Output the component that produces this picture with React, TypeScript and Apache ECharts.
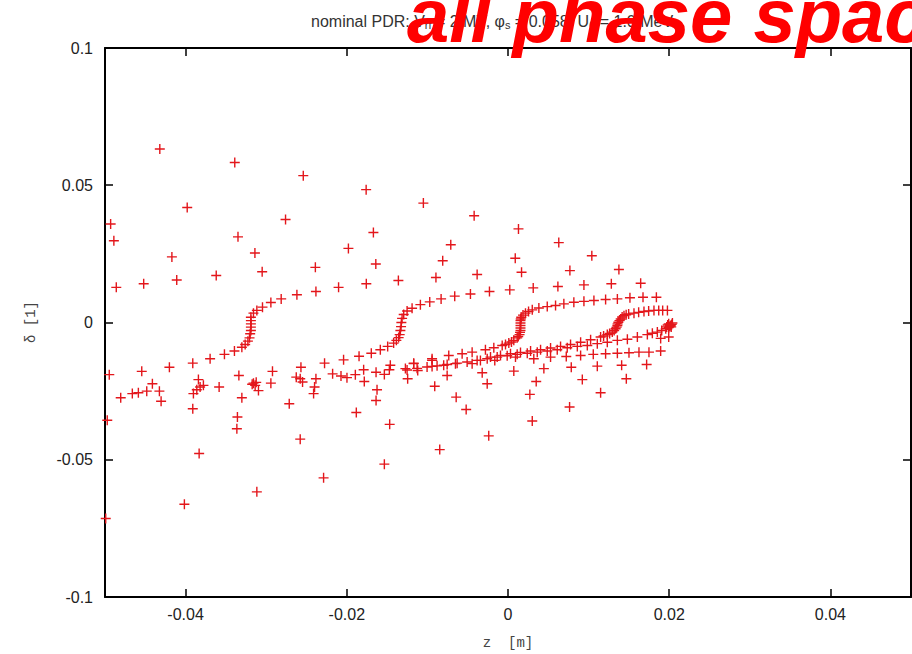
import React, { useEffect, useRef } from "react";
import * as echarts from "echarts";

// ---- data (z [m], delta [1]) ----
const xTickValues = [-0.04, -0.02, 0, 0.02, 0.04];
const yTickValues = [-0.1, -0.05, 0, 0.05, 0.1];

const scatterUpper: [number, number][] = [
  [-0.0432, 0.0632], [-0.0339, 0.0583], [-0.0254, 0.0535], [-0.0176, 0.0484],
  [-0.0398, 0.0419], [-0.0493, 0.0359], [-0.0276, 0.0375], [-0.0489, 0.0298],
  [-0.0335, 0.0312], [-0.0167, 0.0328], [-0.0314, 0.0253], [-0.0198, 0.027],
  [-0.0417, 0.0239], [-0.0305, 0.0185], [-0.0239, 0.0201], [-0.0164, 0.0213],
  [-0.0486, 0.0128], [-0.0452, 0.0141], [-0.0411, 0.0155], [-0.0362, 0.0171],
  [-0.0105, 0.0435], [-0.0042, 0.0389], [0.0013, 0.0341], [0.0063, 0.0291],
  [0.0104, 0.0243], [-0.0071, 0.0283], [-0.0081, 0.0225], [0.0009, 0.0234],
];

const lineA: [number, number][] = [
  [-0.04947, -0.019], [-0.04544, -0.0178], [-0.04201, -0.0163], [-0.03911, -0.0148],
  [-0.03696, -0.0132], [-0.03518, -0.0116], [-0.03394, -0.0104], [-0.03302, -0.009],
  [-0.03261, -0.008], [-0.03227, -0.0068], [-0.03207, -0.0056], [-0.03199, -0.0041],
  [-0.0319, -0.0029], [-0.0319, -0.0017], [-0.0319, -0.0005], [-0.0319, 0.0007],
  [-0.0319, 0.0019], [-0.03158, 0.0034], [-0.03116, 0.0044], [-0.03046, 0.0056],
  [-0.02942, 0.0073], [-0.02814, 0.0086], [-0.02619, 0.0101], [-0.02383, 0.0113],
  [-0.02102, 0.0128], [-0.01758, 0.0141], [-0.0136, 0.0153], [-0.00894, 0.0164],
  [-0.00383, 0.0175], [0.00168, 0.0183], [0.00768, 0.0189], [0.01376, 0.0193],
];

const lineB: [number, number][] = [
  [-0.03841, -0.0208], [-0.03339, -0.0193], [-0.02922, -0.0178], [-0.02569, -0.0163],
  [-0.02276, -0.0148], [-0.0204, -0.0136], [-0.01848, -0.0123], [-0.01696, -0.0112],
  [-0.01584, -0.0099], [-0.01493, -0.0087], [-0.01419, -0.0075], [-0.01385, -0.0065],
  [-0.01357, -0.0055], [-0.01344, -0.0044], [-0.01335, -0.0029], [-0.01327, -0.0015],
  [-0.01323, 0.0], [-0.01314, 0.0015], [-0.01294, 0.0029], [-0.01252, 0.0042],
  [-0.0119, 0.0052], [-0.01087, 0.0065], [-0.00971, 0.0075], [-0.0083, 0.0086],
  [-0.00661, 0.0096], [-0.00466, 0.0104], [-0.0023, 0.0113], [0.00022, 0.0119],
  [0.00313, 0.0126], [0.00619, 0.0131], [0.00942, 0.0137], [0.01282, 0.0141],
  [0.01646, 0.0143],
];

const lineC: [number, number][] = [
  [-0.04805, -0.0274], [-0.04661, -0.0259], [-0.04586, -0.0256], [-0.04482, -0.025],
  [-0.04412, -0.0223], [-0.03861, -0.0245], [-0.0382, -0.0235], [-0.03779, -0.0229],
  [-0.03584, -0.0235], [-0.03158, -0.0221], [-0.02942, -0.0221], [-0.02627, -0.0199],
  [-0.02383, -0.0205], [-0.02072, -0.0195], [-0.01894, -0.019], [-0.01637, -0.0181],
  [-0.0146, -0.0156], [-0.01273, -0.0168], [-0.0117, -0.0148], [-0.00942, -0.0138],
  [-0.00735, -0.012], [-0.00569, -0.0114], [-0.00445, -0.0108], [-0.0028, -0.0099],
  [-0.00176, -0.0092], [-0.00072, -0.0084], [-0.00031, -0.008], [0.0001, -0.0075],
  [0.00043, -0.0071], [0.00072, -0.0065], [0.00114, -0.0056], [0.00127, -0.0051],
  [0.00143, -0.0044], [0.00149, -0.0036], [0.00155, -0.0029], [0.00155, -0.002],
  [0.00155, -0.0011], [0.00155, -0.0002], [0.00155, 0.0007], [0.00158, 0.0013],
  [0.00164, 0.0019], [0.00186, 0.0027], [0.00217, 0.0034], [0.00255, 0.004],
  [0.00301, 0.0046], [0.00383, 0.0053], [0.00487, 0.0058], [0.0059, 0.0062],
  [0.00693, 0.0068], [0.00817, 0.0074], [0.00942, 0.0077], [0.01066, 0.008],
  [0.01211, 0.0084], [0.01357, 0.0086], [0.01513, 0.009], [0.01675, 0.0092],
  [0.01841, 0.0092],
];

const lineS4: [number, number][] = [
  [-0.00217, -0.0126], [-0.00093, -0.012], [0.00031, -0.0114], [0.00155, -0.0109],
  [0.0028, -0.0104], [0.00404, -0.0099], [0.00528, -0.0093], [0.00652, -0.0087],
  [0.00776, -0.008], [0.00901, -0.0072], [0.01025, -0.0063], [0.01149, -0.0053],
  [0.01186, -0.0049], [0.01232, -0.0044], [0.01261, -0.004], [0.01294, -0.0035],
  [0.01317, -0.0029], [0.01335, -0.0023], [0.01348, -0.0017], [0.01357, -0.0011],
  [0.0136, -0.0005], [0.01369, 0.0001], [0.01383, 0.0007], [0.01398, 0.0013],
  [0.01416, 0.002], [0.01439, 0.0025], [0.01466, 0.0028], [0.01497, 0.0031],
  [0.01563, 0.0034], [0.01621, 0.0037], [0.01687, 0.004], [0.01745, 0.0042],
  [0.01811, 0.0044], [0.0187, 0.0044], [0.01919, 0.0044], [0.01978, 0.0044],
];

const lineD: [number, number][] = [
  [-0.01252, -0.0173], [-0.01128, -0.0167], [-0.01004, -0.0162], [-0.0088, -0.0158],
  [-0.00755, -0.0153], [-0.00631, -0.0148], [-0.00507, -0.0144], [-0.00383, -0.0138],
  [-0.00258, -0.0132], [-0.00134, -0.0126], [-0.0001, -0.0121], [0.00114, -0.0116],
  [0.00239, -0.0112], [0.00363, -0.0108], [0.00487, -0.0104], [0.00611, -0.0099],
  [0.00735, -0.0092], [0.0086, -0.0087], [0.00984, -0.0084], [0.01108, -0.0077],
  [0.01232, -0.0072], [0.01357, -0.0065], [0.01481, -0.0061], [0.01605, -0.0053],
  [0.01729, -0.0044], [0.01791, -0.0039], [0.01853, -0.0035], [0.01907, -0.0029],
  [0.01957, -0.0023], [0.01994, -0.0018], [0.02006, -0.0015], [0.02019, -0.0011],
  [0.02025, -0.0016], [0.01981, -0.0009], [0.01994, -0.0005], [0.02031, -0.0007],
  [0.01969, -0.0016], [0.0204, -0.0002],
];

const rowR0: [number, number][] = [
  [0.01894, -0.0104], [0.01749, -0.0108], [0.01625, -0.0108], [0.01501, -0.011],
  [0.01357, -0.0112], [0.01211, -0.0114], [0.01058, -0.0116], [0.00901, -0.012],
  [0.00723, -0.0124], [0.00528, -0.0126], [0.0032, -0.0132], [0.00093, -0.0126],
  [-0.00164, -0.0138], [-0.00342, -0.0138], [-0.00445, -0.015], [-0.00652, -0.015],
  [-0.00798, -0.0156], [-0.00942, -0.016], [-0.00942, -0.0132], [-0.0112, -0.0175],
  [-0.0117, -0.015], [0.01894, -0.0058], [0.01994, -0.0053],
];

const scatterLower: [number, number][] = [
  [-0.00847, -0.0463], [-0.00239, -0.0413], [0.00301, -0.0359], [0.00764, -0.0308],
  [0.01149, -0.0256], [0.01468, -0.0205], [0.0172, -0.0153], [-0.00519, -0.0317],
  [-0.00643, -0.0272], [-0.00909, -0.0232], [-0.00258, -0.0223], [0.00271, -0.0262],
  [0.0035, -0.0215], [0.00922, -0.0208], [-0.0032, -0.0183], [-0.00755, -0.0193],
  [0.00072, -0.0177], [0.00445, -0.0168], [0.00785, -0.0163], [0.01108, -0.0159],
  [0.0141, -0.0156], [-0.01245, -0.0205], [-0.04972, -0.0356], [-0.04991, -0.0714],
  [-0.04304, -0.0287], [-0.04325, -0.025], [-0.03903, -0.0259], [-0.03911, -0.0314],
  [-0.03832, -0.0477], [-0.04015, -0.0662], [-0.03302, -0.0274], [-0.03357, -0.0344],
  [-0.03364, -0.0387], [-0.03137, -0.0229], [-0.03096, -0.0248], [-0.03174, -0.0225],
  [-0.03124, -0.0218], [-0.03116, -0.0617], [-0.02714, -0.0296], [-0.02578, -0.0205],
  [-0.02549, -0.0217], [-0.02578, -0.0425], [-0.024, -0.0235], [-0.02412, -0.0259],
  [-0.02288, -0.0566], [-0.02176, -0.0187], [-0.01998, -0.0201], [-0.01791, -0.0172],
  [-0.01783, -0.0215], [-0.01625, -0.0245], [-0.01637, -0.0284], [-0.01882, -0.0328],
  [-0.01468, -0.0371], [-0.01534, -0.0516], [-0.01534, -0.0189], [-0.01472, -0.0172],
];

const RED = "#e3161b";
const PLUS = "path://M4.3,0H5.7V4.3H10V5.7H5.7V10H4.3V5.7H0V4.3H4.3Z";

export default function App() {
  const ref = useRef<HTMLDivElement>(null);
  useEffect(() => {
    if (!ref.current) return;
    const chart = echarts.init(ref.current, null, { renderer: "svg" });
    const groups: [string, [number, number][]][] = [
      ["upper", scatterUpper],
      ["A", lineA],
      ["B", lineB],
      ["C", lineC],
      ["S4", lineS4],
      ["D", lineD],
      ["R0", rowR0],
      ["lower", scatterLower],
    ];
    const axisLine = { show: true, onZero: false, lineStyle: { color: "#000", width: 2 } };
    const tick = { show: true, inside: true, length: 8, lineStyle: { color: "#000", width: 1.5 } };
    const labelFont = { color: "#222", fontSize: 16, fontFamily: "'Liberation Sans', Arial, sans-serif" };
    chart.setOption({
      animation: false,
      backgroundColor: "#fff",
      grid: { left: 105, right: 1, top: 48, bottom: 57, containLabel: false },
      xAxis: [
        {
          type: "value", position: "bottom", min: -0.05, max: 0.05,
          axisLine, axisTick: { ...tick, customValues: xTickValues },
          axisLabel: { ...labelFont, margin: 9, customValues: xTickValues },
          splitLine: { show: false },
        },
        {
          type: "value", position: "top", min: -0.05, max: 0.05,
          axisLine, axisTick: { ...tick, customValues: xTickValues },
          axisLabel: { show: false }, splitLine: { show: false },
        },
      ],
      yAxis: [
        {
          type: "value", position: "left", min: -0.1, max: 0.1, interval: 0.05,
          axisLine, axisTick: { ...tick, customValues: yTickValues },
          axisLabel: { ...labelFont, margin: 12 },
          splitLine: { show: false },
        },
        {
          type: "value", position: "right", min: -0.1, max: 0.1, interval: 0.05,
          axisLine, axisTick: { ...tick, customValues: yTickValues },
          axisLabel: { show: false }, splitLine: { show: false },
        },
      ],
      series: groups.map(([name, data]) => ({
        type: "scatter",
        name,
        data,
        xAxisIndex: 0,
        yAxisIndex: 0,
        symbol: PLUS,
        symbolSize: 10,
        silent: true,
        itemStyle: { color: RED, opacity: 1 },
      })),
      graphic: [
        {
          type: "text", x: 311, y: 21.5, z: 10,
          style: {
            text: "nominal PDR: V{sub|rf} = 2 MV, φ{sub|s} = 0.058, U{sub|0} = 1.0 MeV",
            fill: "#333",
            font: "16px 'Liberation Sans', Arial, sans-serif",
            textAlign: "left", textVerticalAlign: "middle",
            rich: { sub: { fontSize: 11, padding: [7, 0, 0, 0], fill: "#333" } },
          },
        },
        {
          type: "text", x: 407, y: 15, z: 100,
          style: {
            text: "all phase space",
            fill: "#ff0000",
            font: "italic bold 76px 'Liberation Sans', Arial, sans-serif",
            textAlign: "left", textVerticalAlign: "middle",
          },
        },
        {
          type: "text", x: 508, y: 643, z: 10,
          style: {
            text: "z  [m]", fill: "#444",
            font: "14px 'Liberation Mono', 'DejaVu Sans Mono', monospace",
            textAlign: "center", textVerticalAlign: "middle",
          },
        },
        {
          type: "text", x: 31, y: 322, rotation: Math.PI / 2, z: 10,
          style: {
            text: "δ [1]", fill: "#444",
            font: "14px 'Liberation Mono', 'DejaVu Sans Mono', monospace",
            textAlign: "center", textVerticalAlign: "middle",
          },
        },
      ],
    });
    return () => chart.dispose();
  }, []);
  return (
    <div
      ref={ref}
      style={{ position: "absolute", left: 0, top: 0, width: 912, height: 654 }}
    />
  );
}
